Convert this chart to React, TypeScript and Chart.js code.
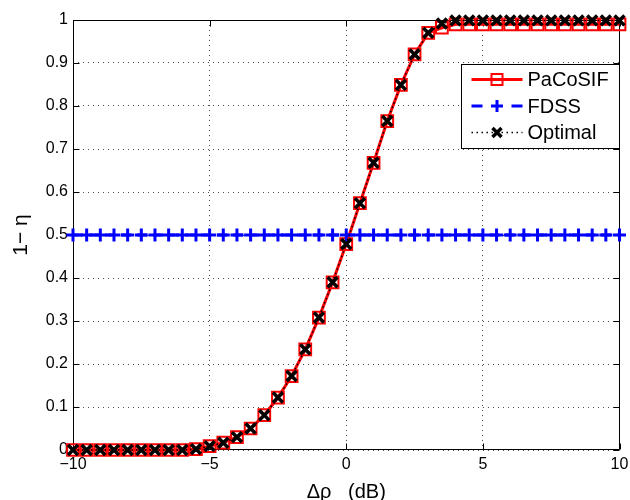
import React, { useEffect, useRef } from 'react';
import { Chart, registerables } from 'chart.js';

Chart.register(...registerables);

// Δρ (dB) sample positions
const deltaRho = [
  -10, -9.5, -9, -8.5, -8, -7.5, -7, -6.5, -6, -5.5,
  -5, -4.5, -4, -3.5, -3, -2.5, -2, -1.5, -1, -0.5,
  0, 0.5, 1, 1.5, 2, 2.5, 3, 3.5, 4, 4.5,
  5, 5.5, 6, 6.5, 7, 7.5, 8, 8.5, 9, 9.5, 10,
];

// 1 − η values
const paCoSIF = [
  0, 0, 0, 0, 0, 0, 0, 0, 0, 0.002,
  0.009, 0.017, 0.03, 0.05, 0.081, 0.122, 0.172, 0.234, 0.308, 0.39,
  0.479, 0.574, 0.668, 0.765, 0.849, 0.92, 0.97, 0.982, 0.99, 0.99,
  0.99, 0.99, 0.99, 0.99, 0.99, 0.99, 0.99, 0.99, 0.99, 0.99, 0.99,
];

const fdss = [
  0.5, 0.5, 0.5, 0.5, 0.5, 0.5, 0.5, 0.5, 0.5, 0.5,
  0.5, 0.5, 0.5, 0.5, 0.5, 0.5, 0.5, 0.5, 0.5, 0.5,
  0.5, 0.5, 0.5, 0.5, 0.5, 0.5, 0.5, 0.5, 0.5, 0.5,
  0.5, 0.5, 0.5, 0.5, 0.5, 0.5, 0.5, 0.5, 0.5, 0.5, 0.5,
];

const optimal = [
  0, 0, 0, 0, 0, 0, 0, 0, 0, 0.002,
  0.009, 0.017, 0.03, 0.05, 0.081, 0.122, 0.172, 0.234, 0.308, 0.39,
  0.479, 0.574, 0.668, 0.765, 0.849, 0.92, 0.97, 0.992, 0.999, 0.999,
  0.999, 0.999, 0.999, 0.999, 0.999, 0.999, 0.999, 0.999, 0.999, 0.999, 0.999,
];

const seriesNames = ['PaCoSIF', 'FDSS', 'Optimal'];
const xTitle = 'Δρ   (dB)';
const yTitle = '1− η';

const FONT = '"Liberation Sans", Arial, Helvetica, sans-serif';

const framePlugin = {
  id: 'matlabFrame',
  beforeDatasetsDraw(chart: any) {
    const { ctx, chartArea: a, scales } = chart;
    ctx.save();
    ctx.strokeStyle = '#000';
    ctx.lineWidth = 1;
    ctx.setLineDash([]);
    const L = Math.round(a.left) + 0.5;
    const R = Math.round(a.right) - 0.5;
    const T = Math.round(a.top) + 0.5;
    const B = Math.round(a.bottom) - 0.5;
    ctx.beginPath();
    ctx.rect(L, T, R - L, B - T);
    ctx.stroke();
    const tl = 6;
    ctx.beginPath();
    scales.x.ticks.forEach((t: any) => {
      const px = Math.round(scales.x.getPixelForValue(t.value)) + 0.5;
      ctx.moveTo(px, B);
      ctx.lineTo(px, B - tl);
      ctx.moveTo(px, T);
      ctx.lineTo(px, T + tl);
    });
    scales.y.ticks.forEach((t: any) => {
      const py = Math.round(scales.y.getPixelForValue(t.value)) + 0.5;
      ctx.moveTo(L, py);
      ctx.lineTo(L + tl, py);
      ctx.moveTo(R, py);
      ctx.lineTo(R - tl, py);
    });
    ctx.stroke();
    ctx.restore();
  },
};

const legendPlugin = {
  id: 'matlabLegend',
  afterDraw(chart: any) {
    const { ctx, chartArea: a } = chart;
    const boxR = Math.round(a.right) - 0.5;
    const boxL = boxR - 158;
    const boxT = Math.round(a.top) + 44.5;
    const boxB = boxT + 84;
    ctx.save();
    ctx.fillStyle = '#fff';
    ctx.fillRect(boxL, boxT, boxR - boxL, boxB - boxT);
    ctx.strokeStyle = '#000';
    ctx.lineWidth = 1;
    ctx.setLineDash([]);
    ctx.strokeRect(boxL, boxT, boxR - boxL, boxB - boxT);

    const x0 = boxL + 10;
    const x1 = boxL + 61;
    const xm = (x0 + x1) / 2;
    const rows = [boxT + 15, boxT + 41.5, boxT + 68];

    // PaCoSIF
    let y = rows[0];
    ctx.strokeStyle = '#ff0000';
    ctx.lineWidth = 3;
    ctx.beginPath();
    ctx.moveTo(x0, y);
    ctx.lineTo(x1, y);
    ctx.stroke();
    ctx.lineWidth = 2;
    ctx.strokeRect(xm - 5.5, y - 5.5, 11, 11);

    // FDSS
    y = rows[1];
    ctx.strokeStyle = '#0000ff';
    ctx.lineWidth = 3;
    ctx.setLineDash([11, 29]);
    ctx.beginPath();
    ctx.moveTo(x0, y);
    ctx.lineTo(x1, y);
    ctx.stroke();
    ctx.setLineDash([]);
    ctx.beginPath();
    ctx.moveTo(xm - 6, y);
    ctx.lineTo(xm + 6, y);
    ctx.moveTo(xm, y - 6);
    ctx.lineTo(xm, y + 6);
    ctx.stroke();

    // Optimal
    y = rows[2];
    ctx.strokeStyle = '#000';
    ctx.lineWidth = 1.5;
    ctx.setLineDash([1.5, 3.5]);
    ctx.beginPath();
    ctx.moveTo(x0, y);
    ctx.lineTo(x1, y);
    ctx.stroke();
    ctx.setLineDash([]);
    ctx.lineWidth = 3.5;
    ctx.beginPath();
    ctx.moveTo(xm - 4.5, y - 4.5);
    ctx.lineTo(xm + 4.5, y + 4.5);
    ctx.moveTo(xm + 4.5, y - 4.5);
    ctx.lineTo(xm - 4.5, y + 4.5);
    ctx.stroke();

    ctx.fillStyle = '#000';
    ctx.font = `20px ${FONT}`;
    ctx.textAlign = 'left';
    ctx.textBaseline = 'middle';
    seriesNames.forEach((n, i) => ctx.fillText(n, x1 + 5, rows[i] + 1));
    ctx.restore();
  },
};

function toPoints(ys: number[]) {
  return deltaRho.map((x, i) => ({ x, y: ys[i] }));
}

export default function App() {
  const ref = useRef<HTMLCanvasElement | null>(null);

  useEffect(() => {
    if (!ref.current) return;
    const chart = new Chart(ref.current, {
      type: 'line',
      data: {
        datasets: [
          {
            label: seriesNames[0],
            data: toPoints(paCoSIF),
            borderColor: '#ff0000',
            borderWidth: 3,
            pointStyle: 'rect',
            pointRadius: 8.3,
            pointBorderWidth: 2,
            pointBorderColor: '#ff0000',
            pointBackgroundColor: 'rgba(0,0,0,0)',
            fill: false,
            clip: false,
            order: 2,
          },
          {
            label: seriesNames[1],
            data: toPoints(fdss),
            borderColor: '#0000ff',
            borderWidth: 3,
            borderDash: [10, 6],
            pointStyle: 'cross',
            pointRadius: 6.5,
            pointBorderWidth: 3,
            pointBorderColor: '#0000ff',
            fill: false,
            clip: false,
            order: 1,
          },
          {
            label: seriesNames[2],
            data: toPoints(optimal),
            borderColor: '#000000',
            borderWidth: 1.5,
            borderDash: [1.5, 3],
            pointStyle: 'crossRot',
            pointRadius: 7,
            pointBorderWidth: 3.5,
            pointBorderColor: '#000000',
            fill: false,
            clip: false,
            order: 0,
          },
        ],
      },
      options: {
        animation: false,
        responsive: false,
        devicePixelRatio: 1,
        layout: { padding: { left: 0, right: 8, top: 20, bottom: 0 } },
        plugins: {
          legend: { display: false },
          tooltip: { enabled: false },
        },
        elements: { line: { tension: 0 } },
        scales: {
          x: {
            type: 'linear',
            min: -10,
            max: 10,
            afterFit: (s: any) => {
              s.height = 50;
              s.paddingLeft = 0;
              s.paddingRight = 0;
            },
            ticks: {
              stepSize: 5,
              padding: 5,
              color: '#000',
              font: { family: FONT, size: 16 },
              maxRotation: 0,
              callback: (v: any) => (Number(v) < 0 ? '−' + Math.abs(Number(v)) : String(v)),
            },
            grid: { color: 'rgba(0,0,0,0.7)', lineWidth: 1, drawTicks: false },
            border: { display: false, dash: [1, 4] },
            title: {
              display: true,
              text: xTitle,
              color: '#000',
              font: { family: FONT, size: 20, lineHeight: 0.8 },
              padding: { top: 0, bottom: 0 },
            },
          },
          y: {
            type: 'linear',
            min: 0,
            max: 1,
            afterFit: (s: any) => {
              s.width = 73;
              s.paddingTop = 0;
              s.paddingBottom = 0;
            },
            ticks: {
              stepSize: 0.1,
              padding: 5,
              color: '#000',
              font: { family: FONT, size: 16 },
              callback: (v: any) => String(Math.round(Number(v) * 10) / 10),
            },
            grid: { color: 'rgba(0,0,0,0.7)', lineWidth: 1, drawTicks: false },
            border: { display: false, dash: [1, 4] },
            title: {
              display: true,
              text: yTitle,
              color: '#000',
              font: { family: FONT, size: 21, lineHeight: 1.2 },
              padding: { top: 9, bottom: 0 },
            },
          },
        },
      },
      plugins: [framePlugin, legendPlugin],
    } as any);
    return () => chart.destroy();
  }, []);

  return (
    <div style={{ position: 'absolute', left: 0, top: 0, width: 630, height: 500, background: '#fff' }}>
      <canvas ref={ref} width={630} height={500} style={{ display: 'block' }} />
    </div>
  );
}
